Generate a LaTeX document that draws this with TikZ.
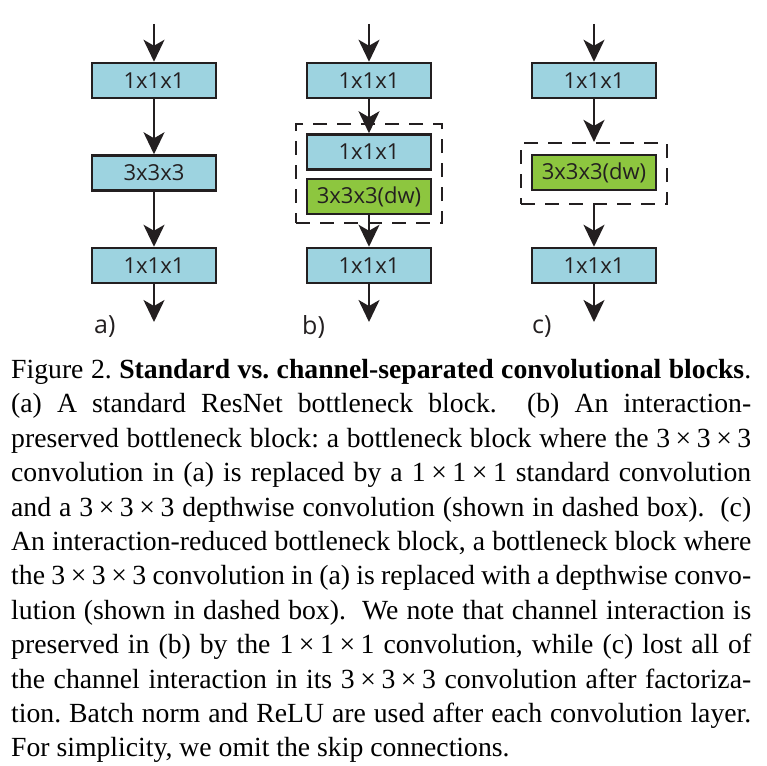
\documentclass[tikz,border=0pt]{standalone}
\usepackage{fontspec}
\setmainfont{Liberation Serif}
\newfontfamily\diagfont{Open Sans}
\usetikzlibrary{arrows.meta}
\definecolor{boxblue}{RGB}{157,211,224}
\definecolor{boxgreen}{RGB}{141,198,63}
\definecolor{edge}{RGB}{35,31,32}
\newcommand{\tms}{\kern.2em×\kern.2em}
\begin{document}
\begin{tikzpicture}[x=1pt,y=-1pt,
  conv/.style={draw=edge,line width=2.5pt,minimum width=124pt,minimum height=35pt,inner sep=0pt,font=\diagfont\fontsize{22}{26}\selectfont,text=edge},
  bluebox/.style={conv,fill=boxblue},
  greenbox/.style={conv,fill=boxgreen},
  dashbox/.style={draw=edge,line width=2.2pt,dash pattern=on 14pt off 10pt,inner sep=0pt},
  flow/.style={draw=edge,line width=2.2pt,-{Stealth[length=22pt,width=21pt,inset=6pt]}},
  sublabel/.style={font=\diagfont\fontsize{25}{30}\selectfont,text=edge,anchor=west,inner sep=0pt}
]
\useasboundingbox (0,0) rectangle (767,765);
% column a
\coordinate (ain) at (154,24);
\node[bluebox] (a1) at (154,80.5) {1x1x1};
\node[bluebox] (a2) at (154,173) {3x3x3};
\node[bluebox] (a3) at (154,265.5) {1x1x1};
\coordinate (aout) at (154,322);
\draw[flow] (ain) -- (a1);
\draw[flow] (a1) -- (a2);
\draw[flow] (a2) -- (a3);
\draw[flow] (a3) -- (aout);
\node[sublabel] (la) at (94,327) {a)};
% column b
\coordinate (bin) at (369,24);
\node[bluebox] (b1) at (369,80.5) {1x1x1};
\node[bluebox] (b2) at (369,152) {1x1x1};
\node[greenbox] (b3) at (369,196.5) {3x3x3(dw)};
\node[bluebox] (b4) at (369,265.5) {1x1x1};
\coordinate (bout) at (369,322);
\node[dashbox,minimum width=146pt,minimum height=99pt] (bd) at (369,173.5) {};
\draw[flow] (bin) -- (b1);
\draw[flow] (b1) -- (b2);
\draw[flow] (b3) -- (b4);
\draw[flow] (b4) -- (bout);
\node[sublabel] (lb) at (302,327) {b)};
% column c
\coordinate (cin) at (594,24);
\node[bluebox] (c1) at (594,80.5) {1x1x1};
\node[greenbox] (c2) at (594,172.5) {3x3x3(dw)};
\node[bluebox] (c3) at (594,265.5) {1x1x1};
\coordinate (cout) at (594,322);
\node[dashbox,minimum width=146pt,minimum height=61pt] (cd) at (594,173.5) {};
\draw[flow] (cin) -- (c1);
\draw[flow] (c1) -- (cd);
\draw[flow] (cd) -- (c3);
\draw[flow] (c3) -- (cout);
\node[sublabel] (lc) at (532,327) {c)};
% caption
\node[anchor=north west,inner sep=0pt,text width=740pt,align=justify,
  font=\fontsize{27.7}{34.4}\selectfont\frenchspacing] (cap) at (11,359) {%
Figure 2. \textbf{Standard vs. channel-separated convolutional blocks}.\linebreak
(a) A standard ResNet bottleneck block.\ \ (b) An interaction-\linebreak
preserved bottleneck block: a bottleneck block where the 3\tms3\tms3\linebreak
convolution in (a) is replaced by a 1\tms1\tms1 standard convolution\linebreak
and a 3\tms3\tms3 depthwise convolution (shown in dashed box).\ \ (c)\linebreak
An interaction-reduced bottleneck block, a bottleneck block where\linebreak
the 3\tms3\tms3 convolution in (a) is replaced with a depthwise convo-\linebreak
lution (shown in dashed box).\ \ We note that channel interaction is\linebreak
preserved in (b) by the 1\tms1\tms1 convolution, while (c) lost all of\linebreak
the channel interaction in its 3\tms3\tms3 convolution after factoriza-\linebreak
tion. Batch norm and ReLU are used after each convolution layer.\linebreak
For simplicity, we omit the skip connections.};
\end{tikzpicture}
\end{document}
